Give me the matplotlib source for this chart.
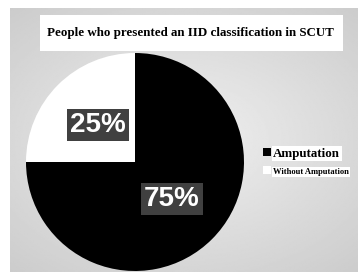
import numpy as np
import matplotlib.pyplot as plt
from matplotlib.patches import Rectangle

# Data
labels = ['Amputation', 'Without Amputation']
shares = [75, 25]
colors = ['#000000', '#ffffff']
title = 'People who presented an IID classification in SCUT'

W, H = 358, 272
fig = plt.figure(figsize=(W / 100, H / 100), dpi=100)
fig.patch.set_facecolor('white')

# gray radial-gradient chart area
bg = fig.add_axes([10 / W, 0, 1 - 10 / W, 1 - 8 / H])
yy, xx = np.mgrid[-1:1:200j, -1:1:260j]
rr = np.sqrt((xx * 0.95) ** 2 + (yy * 1.05) ** 2) / np.sqrt(2)
bg.imshow(0.94 - 0.14 * rr, cmap='gray', vmin=0, vmax=1, aspect='auto',
          extent=[0, 1, 0, 1])
bg.axis('off')

# title box
fig.patches.append(Rectangle((40 / W, 1 - 51 / H), 303 / W, 36 / H,
                             transform=fig.transFigure, facecolor='white',
                             edgecolor='none', zorder=1))
fig.text(190 / W, 1 - 33 / H, title, ha='center', va='center',
         family='Liberation Serif', weight='bold', fontsize=9.4, zorder=2)

# pie
cx, cy, r = 135, 162, 109
ax = fig.add_axes([(cx - r) / W, 1 - (cy + r) / H, 2 * r / W, 2 * r / H])
wedges, _, autotexts = ax.pie(
    shares, colors=colors, startangle=90, counterclock=False, radius=1,
    autopct='%d%%', pctdistance=0.48,
    textprops=dict(color='white', family='Liberation Sans', weight='bold',
                   fontsize=20))
for t in autotexts:
    t.set_bbox(dict(facecolor='#404040', edgecolor='none', pad=2))
ax.set_xlim(-1, 1)
ax.set_ylim(-1, 1)
ax.axis('off')

# legend
leg = fig.legend(wedges, labels, loc='center left',
                 bbox_to_anchor=(251 / W, 1 - 162 / H), frameon=False,
                 handlelength=0.6, handleheight=0.6, handletextpad=0.2,
                 labelspacing=0.45,
                 prop=dict(family='Liberation Serif', weight='bold', size=9.4))
for t in leg.get_texts():
    t.set_bbox(dict(facecolor='white', edgecolor='none', pad=1))
leg.get_texts()[1].set_fontsize(6.1)

fig.savefig('out.png', dpi=100)
